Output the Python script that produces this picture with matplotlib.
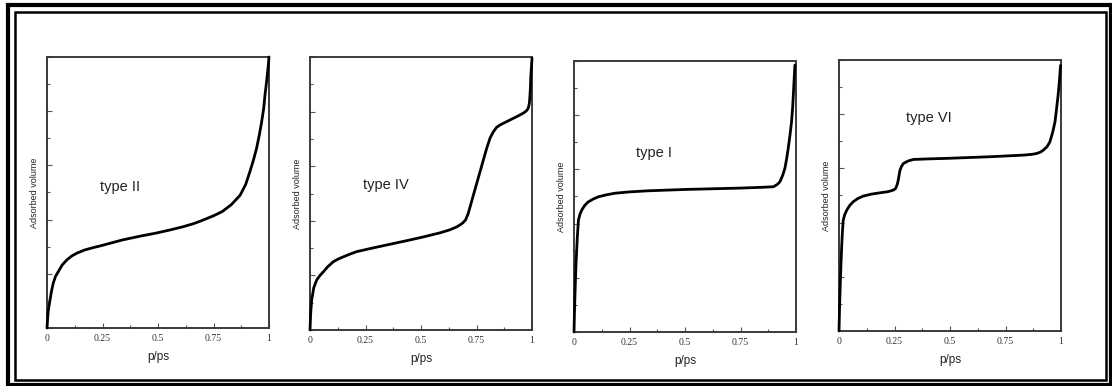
import matplotlib
matplotlib.use("Agg")
import matplotlib.pyplot as plt
from matplotlib.patches import Rectangle
from matplotlib.ticker import MultipleLocator, FixedLocator

# ---- data (relative pressure p/ps vs adsorbed volume, arbitrary units) ----
titles = ["type II", "type IV", "type I", "type VI"]

x_type2 = [0, 0.005, 0.0135, 0.02, 0.028, 0.038, 0.051, 0.068, 0.089, 0.11, 0.134, 0.17,
           0.21, 0.24, 0.29, 0.34, 0.42, 0.49, 0.55, 0.61, 0.66, 0.69, 0.75, 0.79, 0.83,
           0.87, 0.895, 0.914, 0.93, 0.944, 0.957, 0.967, 0.976, 0.982, 0.99, 0.997, 1.0]
y_type2 = [0, 0.06, 0.103, 0.135, 0.165, 0.19, 0.208, 0.232, 0.251, 0.265, 0.276, 0.288,
           0.297, 0.303, 0.314, 0.325, 0.339, 0.35, 0.361, 0.373, 0.385, 0.394, 0.414, 0.43, 0.455,
           0.49, 0.53, 0.577, 0.62, 0.663, 0.715, 0.761, 0.81, 0.86, 0.915, 0.97, 1.0]

x_type4 = [0, 0.003, 0.0075, 0.017, 0.03, 0.045, 0.06, 0.08, 0.105, 0.127, 0.15, 0.18,
           0.21, 0.286, 0.36, 0.44, 0.511, 0.586, 0.63, 0.662, 0.685, 0.70, 0.712, 0.736,
           0.766, 0.796, 0.812, 0.826, 0.84, 0.856, 0.90, 0.93, 0.96, 0.975, 0.983, 0.988,
           0.99, 0.993, 0.995, 1.0]
y_type4 = [0, 0.06, 0.11, 0.155, 0.183, 0.20, 0.213, 0.232, 0.25, 0.26, 0.268, 0.278,
           0.287, 0.301, 0.314, 0.328, 0.341, 0.356, 0.367, 0.378, 0.39, 0.402, 0.425, 0.494,
           0.58, 0.666, 0.705, 0.726, 0.742, 0.751, 0.769, 0.781, 0.794, 0.803, 0.812, 0.83,
           0.849, 0.89, 0.934, 0.995]

x_type1 = [0, 0.003, 0.006, 0.009, 0.012, 0.015, 0.02, 0.027, 0.035, 0.048, 0.064, 0.085,
           0.11, 0.145, 0.184, 0.25, 0.333, 0.5, 0.748, 0.85, 0.898, 0.915, 0.928, 0.94,
           0.95, 0.958, 0.965, 0.973, 0.98, 0.985, 0.988, 0.995]
y_type1 = [0, 0.10, 0.18, 0.25, 0.30, 0.35, 0.413, 0.435, 0.45, 0.467, 0.48, 0.49,
           0.499, 0.506, 0.512, 0.517, 0.521, 0.526, 0.531, 0.534, 0.536, 0.544, 0.555, 0.578,
           0.604, 0.64, 0.678, 0.727, 0.776, 0.83, 0.875, 0.985]

x_type6 = [0, 0.003, 0.006, 0.009, 0.012, 0.015, 0.019, 0.026, 0.035, 0.048, 0.064, 0.085,
           0.11, 0.145, 0.185, 0.22, 0.245, 0.255, 0.262, 0.267, 0.271, 0.275, 0.282, 0.29,
           0.31, 0.335, 0.40, 0.485, 0.68, 0.83, 0.87, 0.89, 0.907, 0.92, 0.937, 0.95,
           0.963, 0.973, 0.98, 0.987, 0.993, 0.998]
y_type6 = [0, 0.10, 0.18, 0.25, 0.31, 0.36, 0.409, 0.43, 0.446, 0.463, 0.477, 0.489,
           0.498, 0.505, 0.51, 0.514, 0.52, 0.526, 0.54, 0.557, 0.577, 0.594, 0.608, 0.618,
           0.627, 0.633, 0.635, 0.637, 0.643, 0.649, 0.652, 0.655, 0.66, 0.667, 0.68, 0.698,
           0.735, 0.772, 0.82, 0.87, 0.925, 0.98]

series_x = [x_type2, x_type4, x_type1, x_type6]
series_y = [y_type2, y_type4, y_type1, y_type6]

x_ticks = [0, 0.25, 0.5, 0.75, 1]
x_ticklabels = ["0", "0.25", "0.5", "0.75", "1"]
x_label = "p/ps"
y_label = "Adsorbed volume"

# ---- layout ----
W, H = 1112, 386
fig = plt.figure(figsize=(W / 100, H / 100), dpi=100)

# axes boxes in pixels: left, right, top, bottom
boxes = [(47, 269, 57, 328), (310, 532, 57, 330), (574, 796, 61, 332), (839, 1061, 60, 331)]
label_pos = [(0.24, 0.52), (0.24, 0.53), (0.28, 0.66), (0.30, 0.785)]

for i, (l, r, t, b) in enumerate(boxes):
    ax = fig.add_axes([l / W, 1 - b / H, (r - l) / W, (b - t) / H])
    ax.plot(series_x[i], series_y[i], color="black", lw=2.0, solid_joinstyle="round",
            solid_capstyle="round", clip_on=False, zorder=3)
    ax.set_xlim(0, 1)
    ax.set_ylim(0, 1)
    for s in ax.spines.values():
        s.set_linewidth(1.4)
        s.set_color("#3a3a3a")
    ax.xaxis.set_major_locator(FixedLocator(x_ticks))
    ax.xaxis.set_minor_locator(MultipleLocator(0.125))
    ax.yaxis.set_major_locator(MultipleLocator(0.2))
    ax.yaxis.set_minor_locator(MultipleLocator(0.1))
    ax.set_xticklabels(x_ticklabels, family="Liberation Serif", fontsize=7, color="#333333")
    ax.set_yticklabels([])
    ax.tick_params(which="both", direction="in", top=False, right=False, color="#555555")
    ax.tick_params(which="major", length=3.5, width=0.8, pad=4)
    ax.tick_params(which="minor", length=2, width=0.8)
    ax.set_xlabel(x_label, family="Liberation Sans", fontsize=8.5, labelpad=6, color="#222222")
    ax.set_ylabel(y_label, family="Liberation Sans", fontsize=6.5, labelpad=2, color="#222222")
    tx, ty = label_pos[i]
    ax.text(tx, ty, titles[i], transform=ax.transAxes, family="Liberation Sans",
            fontsize=10.5, color="#222222", va="center", ha="left")

# double frame around the whole figure
def frame(x0, y0, x1, y1, lw):
    fig.patches.append(Rectangle((x0 / W, 1 - y1 / H), (x1 - x0) / W, (y1 - y0) / H,
                                 transform=fig.transFigure, fill=False, ec="black", lw=lw))

frame(8, 4.5, 1110.5, 384.5, 3.0)
frame(14.5, 11.5, 1106, 379.5, 1.8)

fig.savefig("out.png", dpi=100)
